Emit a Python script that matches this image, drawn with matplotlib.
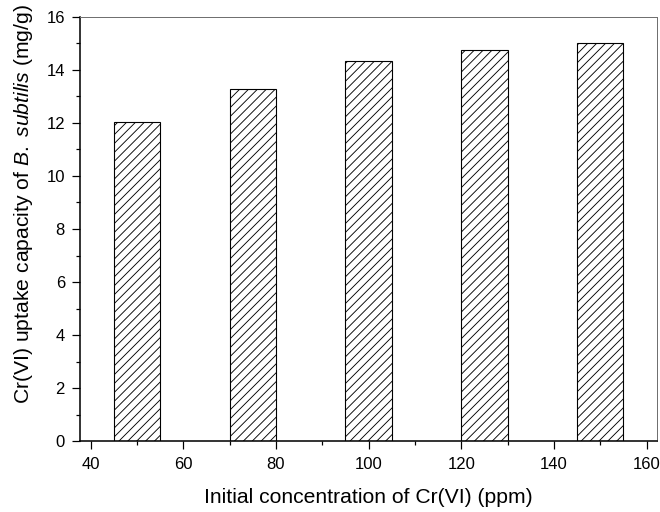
import matplotlib
matplotlib.use("Agg")
from matplotlib import pyplot as plt

plt.rcParams["font.family"] = ["Liberation Sans", "DejaVu Sans"]
plt.rcParams["mathtext.fontset"] = "custom"
plt.rcParams["mathtext.rm"] = "Liberation Sans"
plt.rcParams["mathtext.it"] = "Liberation Sans:italic"
plt.rcParams["hatch.linewidth"] = 0.8

concentration = [50, 75, 100, 125, 150]
uptake = [12.02, 13.27, 14.34, 14.74, 15.02]
x_ticks = [40, 60, 80, 100, 120, 140, 160]
y_ticks = [0, 2, 4, 6, 8, 10, 12, 14, 16]

fig = plt.figure(figsize=(8.25, 6.4), dpi=80)
ax = fig.add_axes([0.1212, 0.138, 0.8747, 0.8294])

ax.bar(concentration, uptake, width=10, color="white", edgecolor="black",
       hatch="///", linewidth=1.0)

ax.set_xlim(37.7, 162.3)
ax.set_ylim(0, 16)
ax.set_xticks(x_ticks)
ax.set_yticks(y_ticks)
ax.set_xticks([50, 70, 90, 110, 130, 150], minor=True)
ax.set_yticks([1, 3, 5, 7, 9, 11, 13, 15], minor=True)
ax.tick_params(which="major", direction="out", length=7.5, width=1.1,
               labelsize=15, top=False, right=False)
ax.tick_params(axis="x", which="major", pad=7)
ax.tick_params(axis="y", which="major", pad=6)
ax.tick_params(which="minor", direction="out", length=4, width=1.1,
               top=False, right=False)

for s in ["left", "bottom"]:
    ax.spines[s].set_linewidth(1.4)
    ax.spines[s].set_color("black")
for s in ["top", "right"]:
    ax.spines[s].set_linewidth(0.9)
    ax.spines[s].set_color("#707070")

ax.set_xlabel("Initial concentration of Cr(VI) (ppm)", fontsize=19, labelpad=14)
ax.set_ylabel(r"Cr(VI) uptake capacity of $\mathit{B.\ subtilis}$ (mg/g)",
              fontsize=19)
ax.yaxis.set_label_coords(-0.078, 0.559)

fig.savefig("out.png", dpi=80)
